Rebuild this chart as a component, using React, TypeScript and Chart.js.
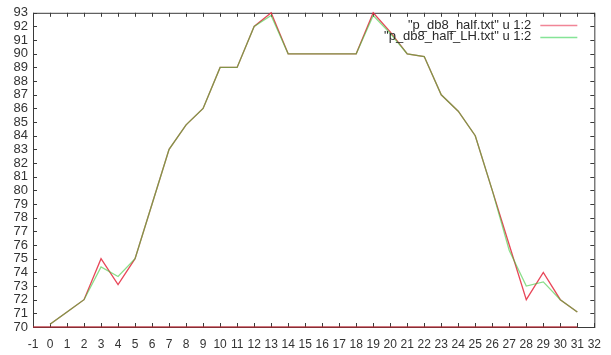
import React, { useEffect, useRef } from "react";
import { Chart, registerables } from "chart.js";

Chart.register(...registerables);

// Sample index (column 1 of both files)
const sampleIndex = [
  0, 1, 2, 3, 4, 5, 6, 7, 8, 9, 10, 11, 12, 13, 14, 15,
  16, 17, 18, 19, 20, 21, 22, 23, 24, 25, 26, 27, 28, 29, 30, 31,
];

// Column 2 of p_db8_half.txt
const halfValues = [
  70.2, 71.1, 72, 75, 73.1, 75, 79, 83, 84.8, 86, 89, 89, 92, 93, 90, 90,
  90, 90, 90, 93, 91.6, 90, 89.8, 87, 85.8, 84, 80, 76, 72, 74, 72, 71.1,
];

// Column 2 of p_db8_half_LH.txt
const halfLHValues = [
  70.2, 71.1, 72, 74.4, 73.7, 75, 79, 83, 84.8, 86, 89, 89, 92, 92.8, 90, 90,
  90, 90, 90, 92.8, 91.5, 90, 89.8, 87, 85.8, 84, 80, 75.6, 73, 73.3, 72, 71.1,
];

// Second block of p_db8_half.txt: flat floor line
const floorX = [-1, 31];
const floorY = [70, 70];

const seriesLabels = ['"p_db8_half.txt" u 1:2', '"p_db8_half_LH.txt" u 1:2'];

const xMin = -1;
const xMax = 32;
const yMin = 70;
const yMax = 93;

const FONT = "'Liberation Sans', Arial, sans-serif";

// gnuplot-style frame with inward ticks on all four sides
const framePlugin = {
  id: "frame",
  beforeDatasetsDraw(chart: any) {
    const { ctx, chartArea } = chart;
    const { left, right, top, bottom } = chartArea;
    const xs = chart.scales.x;
    const ys = chart.scales.y;
    ctx.save();
    ctx.strokeStyle = "#3a3a3a";
    ctx.lineWidth = 1;
    ctx.strokeRect(left + 0.5, top + 0.5, right - left, bottom - top);
    const tl = 4;
    ctx.beginPath();
    for (let v = xMin; v <= xMax; v++) {
      const px = Math.round(xs.getPixelForValue(v)) + 0.5;
      ctx.moveTo(px, bottom);
      ctx.lineTo(px, bottom - tl);
      ctx.moveTo(px, top);
      ctx.lineTo(px, top + tl);
    }
    for (let v = yMin; v <= yMax; v++) {
      const py = Math.round(ys.getPixelForValue(v)) + 0.5;
      ctx.moveTo(left, py);
      ctx.lineTo(left + tl, py);
      ctx.moveTo(right, py);
      ctx.lineTo(right - tl, py);
    }
    ctx.stroke();
    ctx.restore();
  },
  afterDraw(chart: any) {
    // key box in the top-right corner, text right-aligned before the line sample
    const { ctx, chartArea } = chart;
    ctx.save();
    ctx.font = `13px ${FONT}`;
    ctx.textAlign = "right";
    ctx.textBaseline = "middle";
    const textRight = chartArea.right - 63;
    const sampleLeft = chartArea.right - 54;
    const sampleRight = chartArea.right - 17;
    [0, 1].forEach((i) => {
      const ds = chart.data.datasets[i];
      const y = chartArea.top + 12.5 + i * 11.5;
      ctx.fillStyle = "#2a2a2a";
      ctx.fillText(ds.label, textRight, y);
      ctx.strokeStyle = ds.keyColor;
      ctx.lineWidth = 1.5;
      ctx.beginPath();
      ctx.moveTo(sampleLeft, Math.round(y) + 0.5);
      ctx.lineTo(sampleRight, Math.round(y) + 0.5);
      ctx.stroke();
    });
    ctx.restore();
  },
};

export default function App() {
  const canvasRef = useRef<HTMLCanvasElement | null>(null);

  useEffect(() => {
    const canvas = canvasRef.current;
    if (!canvas) return;
    const toPoints = (xs: number[], ys: number[]) => xs.map((x, i) => ({ x, y: ys[i] }));

    const chart = new Chart(canvas, {
      type: "line",
      data: {
        datasets: [
          {
            label: seriesLabels[0],
            data: toPoints(sampleIndex, halfValues),
            borderColor: "rgba(230,50,70,0.9)",
            keyColor: "rgba(240,120,140,0.9)",
            borderWidth: 1.3,
            pointRadius: 0,
            tension: 0,
            clip: false,
            order: 2,
          } as any,
          {
            label: seriesLabels[1],
            data: toPoints(sampleIndex, halfLHValues),
            borderColor: "rgba(60,200,60,0.6)",
            keyColor: "rgba(120,225,140,0.9)",
            borderWidth: 1.3,
            pointRadius: 0,
            tension: 0,
            clip: false,
            order: 1,
          } as any,
          {
            label: "",
            data: toPoints(floorX, floorY),
            borderColor: "rgba(180,40,50,0.85)",
            borderWidth: 1.3,
            pointRadius: 0,
            clip: false,
            order: 0,
          } as any,
        ],
      },
      options: {
        animation: false,
        responsive: false,
        devicePixelRatio: 1,
        layout: { padding: { top: 10, right: 11, left: 0, bottom: 0 } },
        plugins: {
          legend: { display: false },
          tooltip: { enabled: false },
        },
        scales: {
          x: {
            type: "linear",
            min: xMin,
            max: xMax,
            grid: { display: false, drawTicks: false },
            border: { display: false },
            ticks: {
              stepSize: 1,
              autoSkip: false,
              maxRotation: 0,
              padding: 10,
              color: "#333",
              font: { family: FONT, size: 12 },
            },
            afterFit: (s: any) => {
              s.height = 28;
            },
          },
          y: {
            type: "linear",
            min: yMin,
            max: yMax,
            grid: { display: false, drawTicks: false },
            border: { display: false },
            ticks: {
              stepSize: 1,
              autoSkip: false,
              padding: 5,
              color: "#333",
              font: { family: FONT, size: 13 },
            },
            afterFit: (s: any) => {
              s.width = 33;
            },
          },
        },
      },
      plugins: [framePlugin],
    });

    return () => chart.destroy();
  }, []);

  return (
    <div style={{ position: "fixed", left: 0, top: 0, width: 611, height: 355, background: "#fff" }}>
      <canvas ref={canvasRef} width={611} height={355} style={{ display: "block" }} />
    </div>
  );
}
